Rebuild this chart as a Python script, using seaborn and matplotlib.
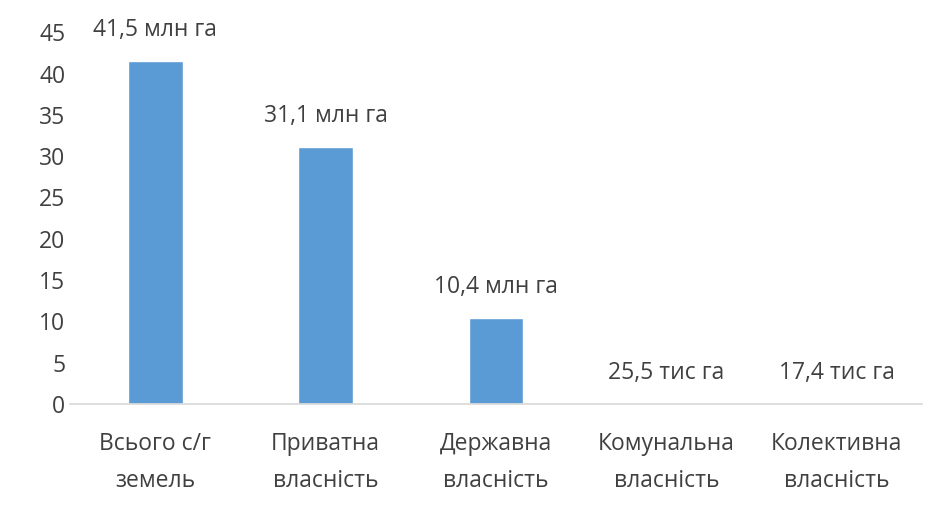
import matplotlib
matplotlib.use("Agg")
import matplotlib.pyplot as plt
import seaborn as sns

categories = ["Всього с/г\nземель", "Приватна\nвласність", "Державна\nвласність",
              "Комунальна\nвласність", "Колективна\nвласність"]
values = [41.5, 31.1, 10.4, 0.0255, 0.0174]
value_labels = ["41,5 млн га", "31,1 млн га", "10,4 млн га", "25,5 тис га", "17,4 тис га"]

sns.set_theme(style="white")
plt.rcParams['font.family'] = ['Open Sans', 'DejaVu Sans']

fig = plt.figure(figsize=(9.36, 5.2), dpi=100)
ax = fig.add_axes([0.075, 0.223, 0.91, 0.715])
sns.barplot(x=categories, y=values, color="#5B9BD5", width=0.32, saturation=1, ax=ax)

for i, (v, lab) in enumerate(zip(values, value_labels)):
    ax.text(i, v + 2.3, lab, ha="center", va="bottom", fontsize=16.5, color="#404040")

ax.set_ylim(0, 45)
ax.set_yticks(range(0, 46, 5))
ax.tick_params(axis="y", labelsize=16.5, colors="#404040", length=0)
ax.tick_params(axis="x", labelsize=16.5, colors="#404040", length=0, pad=20)
for lbl in ax.get_xticklabels():
    lbl.set_linespacing(1.75)
sns.despine(ax=ax, left=True)
ax.spines["bottom"].set_color("#D9D9D9")

fig.savefig("out.png", dpi=100)
